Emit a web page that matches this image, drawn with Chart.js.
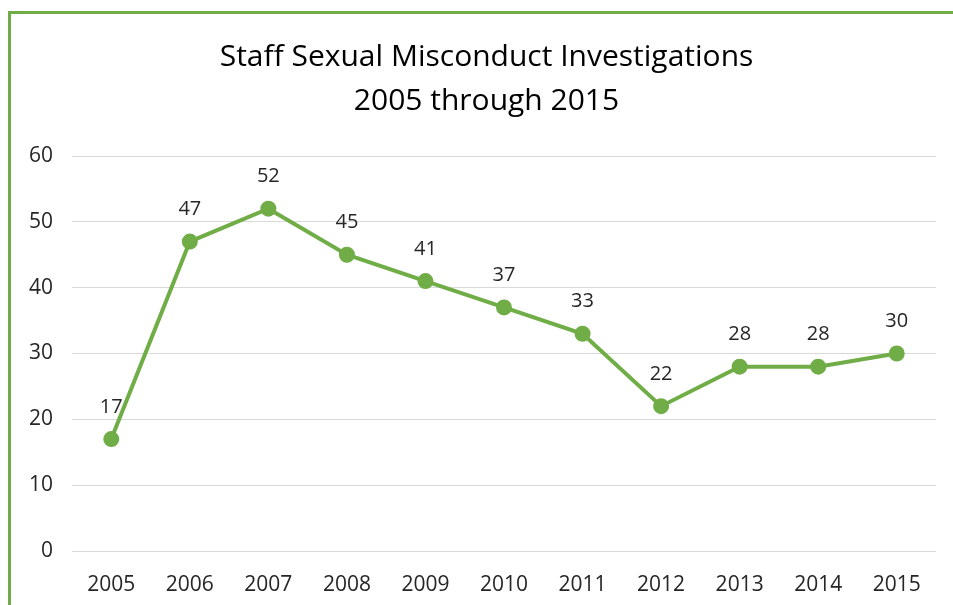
<!DOCTYPE html>
<html lang="en">
<head>
    <meta charset="UTF-8">
    <title>Staff Sexual Misconduct Investigations</title>
    <script src="https://cdn.jsdelivr.net/npm/chart.js@4.4.0/dist/chart.umd.min.js"></script>
    <style>
        html, body { margin: 0; padding: 0; background: #fff; overflow: hidden; }
        .frame { position: absolute; left: 8px; top: 11px; width: 960px; height: 620px;
                 border-left: 3px solid #70ad47; border-top: 3px solid #70ad47; }
        .chart-box { position: absolute; left: 0; top: 0; width: 953px; height: 605px; }
    </style>
</head>
<body>
    <div class="frame"></div>
    <div class="chart-box"><canvas id="chart"></canvas></div>
    <script>
        const years = ['2005', '2006', '2007', '2008', '2009', '2010', '2011', '2012', '2013', '2014', '2015'];
        const investigations = [17, 47, 52, 45, 41, 37, 33, 22, 28, 28, 30];
        const yTicks = [0, 10, 20, 30, 40, 50, 60];
        const titleLines = ['Staff Sexual Misconduct Investigations', '2005 through 2015'];

        const green = '#70ad47';
        const fontName = '"Open Sans", sans-serif';

        // title is centred on the frame, not on the canvas, so draw it here
        const frameTitle = {
            id: 'frameTitle',
            afterDraw(chart) {
                const ctx = chart.ctx;
                ctx.save();
                ctx.font = '30px ' + fontName;
                ctx.fillStyle = '#000';
                ctx.textAlign = 'center';
                ctx.textBaseline = 'middle';
                titleLines.forEach((line, i) => {
                    ctx.fillText(line, chart.width / 2 + 10, 57 + i * 44);
                });
                ctx.restore();
            }
        };

        // draws the value above each point
        const valueLabels = {
            id: 'valueLabels',
            afterDatasetsDraw(chart) {
                const ctx = chart.ctx;
                const meta = chart.getDatasetMeta(0);
                ctx.save();
                ctx.font = '20px ' + fontName;
                ctx.fillStyle = '#262626';
                ctx.textAlign = 'center';
                ctx.textBaseline = 'middle';
                meta.data.forEach((pt, i) => {
                    ctx.fillText(String(investigations[i]), pt.x, pt.y - 32);
                });
                ctx.restore();
            }
        };

        new Chart(document.getElementById('chart'), {
            type: 'line',
            data: {
                labels: years,
                datasets: [{
                    data: investigations,
                    borderColor: green,
                    backgroundColor: green,
                    borderWidth: 4,
                    pointRadius: 6,
                    pointHoverRadius: 6,
                    tension: 0
                }]
            },
            options: {
                responsive: true,
                maintainAspectRatio: false,
                animation: false,
                layout: { padding: { left: 0, right: 17, top: 156, bottom: 0 } },
                plugins: {
                    legend: { display: false },
                    tooltip: { enabled: false },
                    title: { display: false }
                },
                scales: {
                    x: {
                        offset: true,
                        grid: { display: false },
                        border: { display: false },
                        ticks: { color: '#262626', font: { family: fontName, size: 21 }, padding: 13 },
                        afterFit(scale) { scale.height = 54; }
                    },
                    y: {
                        min: 0,
                        max: 60,
                        afterBuildTicks(scale) { scale.ticks = yTicks.map(v => ({ value: v })); },
                        grid: { color: '#d9d9d9', lineWidth: 1, drawTicks: false },
                        border: { display: false },
                        ticks: { color: '#262626', font: { family: fontName, size: 21 }, padding: 19 },
                        afterFit(scale) { scale.width = 72; }
                    }
                }
            },
            plugins: [valueLabels, frameTitle]
        });
    </script>
</body>
</html>
